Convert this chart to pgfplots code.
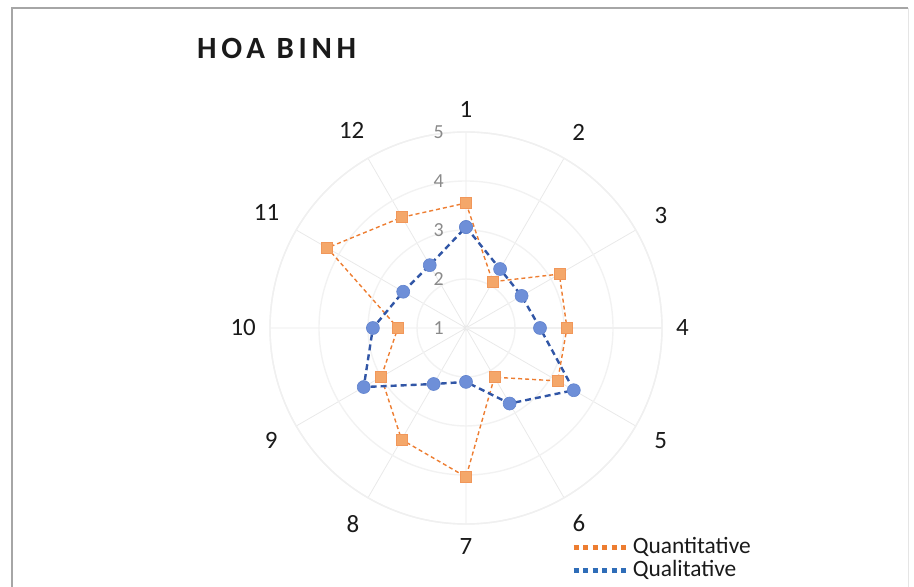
\documentclass[border=0pt]{standalone}
\usepackage{fontspec}
\setmainfont{Carlito}
\usepackage{pgfplots}
\pgfplotsset{compat=1.18}
\usepgfplotslibrary{polar}
\definecolor{qorange}{HTML}{ED7D31}
\definecolor{qorangefill}{HTML}{F4A76A}
\definecolor{qblue}{HTML}{3156A6}
\definecolor{qbluefill}{HTML}{6E8FD8}
\definecolor{legblue}{HTML}{2F6DB8}
\definecolor{txt}{HTML}{1A1A1A}
\definecolor{ringlbl}{HTML}{8A8A8A}
\begin{document}
\begin{tikzpicture}[x=1bp,y=1bp]
\path[use as bounding box] (0,0) rectangle (914,587);
\draw[gray!70, line width=1.2bp] (12,0) -- (12,579) -- (908,579);
\draw[gray!20, line width=1bp] (908,579) -- (908,0);
\node[anchor=base west, inner sep=0pt, text=txt,
      font=\fontsize{31}{32}\selectfont\bfseries\addfontfeatures{LetterSpace=15}]
      at (197,528) {HOA BINH};
\begin{polaraxis}[
  at={(466bp,259bp)}, anchor=center,
  scale only axis, width=392bp, height=392bp,
  clip=false,
  ymin=0, ymax=4,
  xtick={0,30,...,330},
  xticklabels={4,3,2,1,12,11,10,9,8,7,6,5},
  ytick={0,1,2,3,4},
  yticklabels={},
  major tick length=0pt,
  xmajorgrids, ymajorgrids,
  x grid style={gray!17, line width=0.8bp},
  y grid style={gray!10, line width=1.4bp},
  axis line style={gray!12, line width=1.4bp},
  xticklabel style={font=\fontsize{25}{26}\selectfont, text=txt, inner sep=14bp},
  legend style={at={(0.768,-0.031)}, anchor=north west, draw=none, fill=none,
    font=\fontsize{23.5}{24}\selectfont, text=txt, inner sep=0pt,
    nodes={inner sep=1bp, text height=16bp, text depth=4bp}, row sep=1bp, cells={anchor=west}},
]
\addplot[forget plot, qorange, line width=1.4bp, dash pattern=on 4bp off 3bp,
  mark=square*, mark size=5.5bp, mark options={solid, fill=qorangefill, draw=qorange!80, line width=0.6bp}]
  coordinates {(90,2.55) (60,1.09) (30,2.20) (0,2.06) (330,2.16) (300,1.16)
               (270,3.04) (240,2.63) (210,2.00) (180,1.39) (150,3.27) (120,2.61) (90,2.55)};
\addplot[forget plot, qblue, line width=2.4bp, dash pattern=on 6bp off 4bp,
  mark=*, mark size=6.5bp, mark options={solid, fill=qbluefill, draw=qbluefill!80!qblue, line width=0.6bp}]
  coordinates {(90,2.06) (60,1.39) (30,1.31) (0,1.51) (330,2.54) (300,1.78)
               (270,1.10) (240,1.32) (210,2.41) (180,1.90) (150,1.48) (120,1.48) (90,2.06)};
\addlegendimage{legend image code/.code={\draw[qorange, line width=4.5bp, dash pattern=on 5bp off 4.5bp] (0bp,0bp) -- (56bp,0bp);}}
\addlegendentry{Quantitative}
\addlegendimage{legend image code/.code={\draw[legblue, line width=4.5bp, dash pattern=on 5bp off 4.5bp] (0bp,0bp) -- (56bp,0bp);}}
\addlegendentry{Qualitative}
\foreach \r/\t in {0/1,1/2,2/3,3/4,4/5} {
  \edef\tmp{\noexpand\node[anchor=east, inner sep=0pt, xshift=-22bp, text=ringlbl, font=\noexpand\fontsize{20}{21}\noexpand\selectfont] at (axis cs:90,\r) {\t};}
  \tmp
}
\end{polaraxis}
\end{tikzpicture}
\end{document}
